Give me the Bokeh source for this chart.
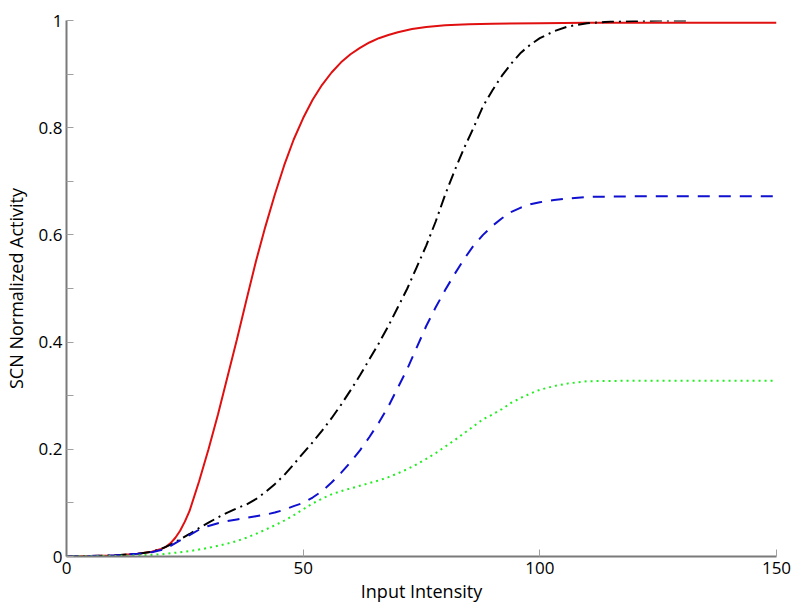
from bokeh.plotting import figure
from bokeh.models import Range1d, FixedTicker
from bokeh.embed import file_html
from bokeh.resources import INLINE

# ---- data ----
red_x = [0, 5, 10, 15, 18, 20, 21, 22, 23, 24, 25, 26, 28, 30, 32, 34, 36, 38, 40, 42, 44,
         46, 48, 50, 52, 54, 56, 58, 60, 62, 64, 66, 68, 70, 73, 76, 80, 85, 90, 100, 110,
         120, 150]
red_y = [0, 0.001, 0.002, 0.005, 0.009, 0.014, 0.018, 0.025, 0.035, 0.048, 0.065, 0.085,
         0.14, 0.2, 0.265, 0.335, 0.405, 0.478, 0.55, 0.615, 0.675, 0.73, 0.778, 0.818,
         0.852, 0.88, 0.903, 0.922, 0.937, 0.949, 0.959, 0.967, 0.973, 0.978, 0.984, 0.988,
         0.991, 0.993, 0.994, 0.995, 0.996, 0.996, 0.996]

black_x = [0, 5, 10, 15, 18, 20, 22, 24, 26, 28, 30, 32, 34, 36, 38, 40, 42, 44, 46, 48,
           50, 52, 54, 56, 58, 60, 62, 64, 66, 68, 70, 72, 74, 76, 78, 80, 82, 84, 86, 88,
           90, 92, 94, 96, 98, 100, 103, 106, 110, 115, 120, 125, 131]
black_y = [0, 0.001, 0.002, 0.005, 0.009, 0.014, 0.022, 0.032, 0.042, 0.053, 0.063, 0.073,
           0.082, 0.09, 0.097, 0.107, 0.12, 0.135, 0.152, 0.172, 0.193, 0.213, 0.235, 0.258,
           0.283, 0.31, 0.338, 0.368, 0.398, 0.43, 0.465, 0.5, 0.54, 0.58, 0.625, 0.675,
           0.72, 0.762, 0.8, 0.84, 0.87, 0.897, 0.92, 0.94, 0.955, 0.967, 0.98, 0.989,
           0.995, 0.998, 0.999, 1.0, 1.0]

blue_x = [0, 5, 10, 15, 18, 20, 22, 24, 26, 28, 30, 32, 34, 36, 38, 40, 42, 44, 46, 48,
          50, 52, 54, 56, 58, 60, 62, 64, 66, 68, 70, 72, 74, 76, 78, 80, 82, 84, 86, 88,
          90, 92, 94, 96, 98, 100, 103, 106, 110, 120, 150]
blue_y = [0, 0.001, 0.002, 0.005, 0.008, 0.012, 0.02, 0.03, 0.04, 0.05, 0.057, 0.062,
          0.066, 0.069, 0.072, 0.075, 0.078, 0.082, 0.087, 0.094, 0.1, 0.11, 0.122, 0.138,
          0.156, 0.176, 0.198, 0.223, 0.25, 0.28, 0.315, 0.35, 0.39, 0.43, 0.465, 0.497,
          0.527, 0.555, 0.58, 0.6, 0.617, 0.631, 0.643, 0.651, 0.657, 0.661, 0.665, 0.668,
          0.671, 0.672, 0.672]

green_x = [0, 5, 10, 15, 18, 20, 22, 24, 26, 28, 30, 32, 34, 36, 38, 40, 42, 44, 46, 48,
           50, 52, 54, 56, 58, 60, 62, 64, 66, 68, 70, 72, 74, 76, 78, 80, 82, 84, 86, 88,
           90, 92, 94, 96, 98, 100, 103, 106, 110, 120, 150]
green_y = [0, 0.0005, 0.001, 0.002, 0.003, 0.004, 0.006, 0.008, 0.01, 0.013, 0.016, 0.02,
           0.024, 0.029, 0.035, 0.042, 0.05, 0.058, 0.067, 0.077, 0.088, 0.099, 0.108,
           0.116, 0.122, 0.127, 0.132, 0.137, 0.142, 0.148, 0.155, 0.163, 0.172, 0.182,
           0.193, 0.205, 0.217, 0.23, 0.243, 0.256, 0.265, 0.275, 0.287, 0.296, 0.304,
           0.311, 0.318, 0.323, 0.327, 0.328, 0.328]

x_ticks = [0, 50, 100, 150]
y_ticks = [0, 0.2, 0.4, 0.6, 0.8, 1.0]
y_tick_labels = ["0", "0.2", "0.4", "0.6", "0.8", "1"]
y_minor = [0.1, 0.3, 0.5, 0.7, 0.9]

FONT = "Open Sans"

p = figure(frame_width=710, frame_height=536, output_backend="svg", toolbar_location=None,
           x_range=Range1d(0, 150), y_range=Range1d(0, 1),
           min_border_left=57, min_border_right=15, min_border_top=20, min_border_bottom=40)
p.outline_line_color = None
p.xgrid.visible = False
p.ygrid.visible = False
p.background_fill_color = "white"
p.border_fill_color = "white"

p.line(red_x, red_y, line_color="#e01010", line_width=2)
p.line(black_x, black_y, line_color="black", line_width=2, line_dash="12 5 2 5")
p.line(blue_x, blue_y, line_color="#1010d0", line_width=2, line_dash="12 9")
p.line(green_x, green_y, line_color="#22ee22", line_width=2, line_dash="2 4")

xa = p.xaxis[0]
ya = p.yaxis[0]
xa.ticker = FixedTicker(ticks=x_ticks)
ya.ticker = FixedTicker(ticks=y_ticks, minor_ticks=y_minor)
ya.major_label_overrides = {t: s for t, s in zip(y_ticks, y_tick_labels)}
xa.axis_label = "Input Intensity"
ya.axis_label = "SCN Normalized Activity"
for ax in (xa, ya):
    ax.axis_line_color = "#7a7a7a"
    ax.axis_line_width = 2
    ax.major_tick_line_color = "#a0a0a0"
    ax.minor_tick_line_color = "#a0a0a0"
    ax.major_tick_in = 7
    ax.major_tick_out = 0
    ax.minor_tick_in = 7
    ax.minor_tick_out = 0
    ax.major_label_text_font = FONT
    ax.major_label_text_font_size = "17px"
    ax.major_label_text_color = "black"
    ax.axis_label_text_font = FONT
    ax.axis_label_text_font_size = "18px"
    ax.axis_label_text_font_style = "normal"
    ax.axis_label_text_color = "black"
xa.minor_tick_line_color = None
xa.major_label_standoff = 5
xa.axis_label_standoff = 2
ya.major_label_standoff = 4
ya.axis_label_standoff = 8

open("out.html", "w").write(file_html(p, INLINE))
